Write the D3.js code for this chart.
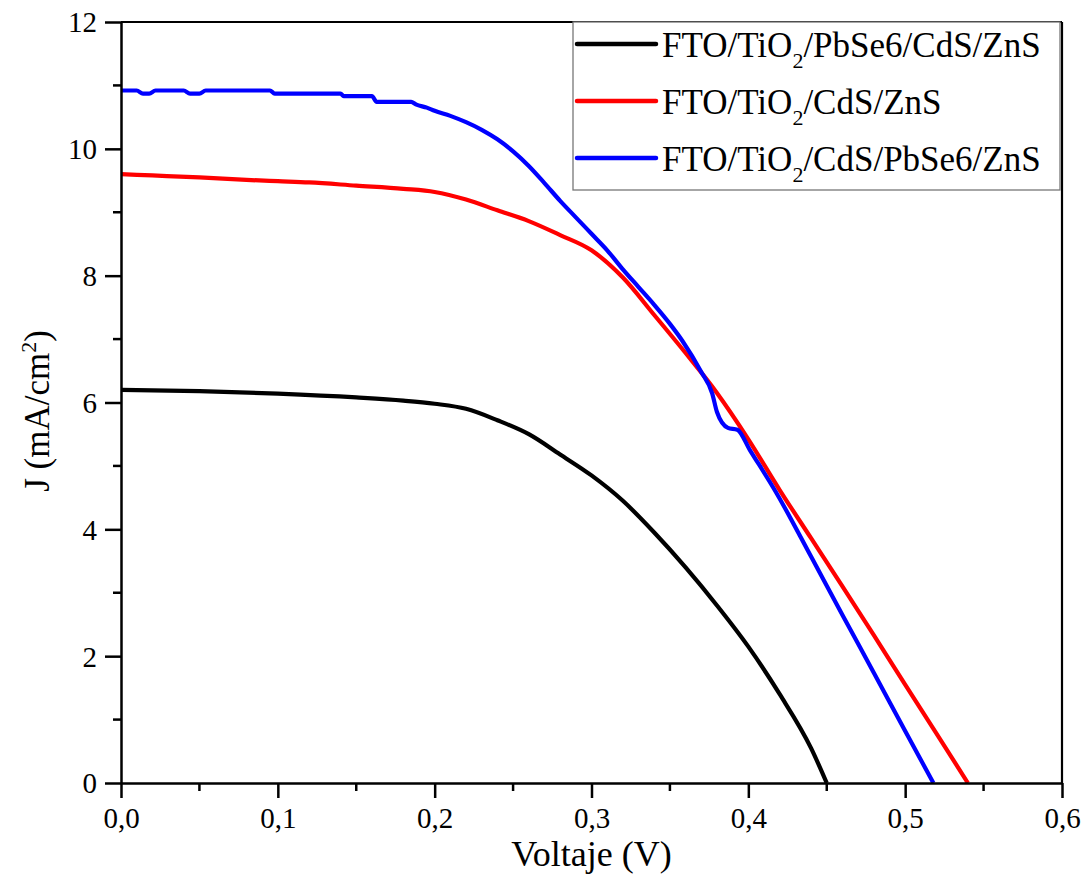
<!DOCTYPE html>
<html>
<head>
<meta charset="utf-8">
<script src="https://cdn.jsdelivr.net/npm/d3@7"></script>
</head>
<body style="margin:0">
<svg id="chart" width="1086" height="884" font-family="Liberation Serif"></svg>
<script>
// J–V curves of the three sensitised photoanodes (voltage in V, current density in mA/cm²)
const seriesNames = [
  "FTO/TiO2/PbSe6/CdS/ZnS",
  "FTO/TiO2/CdS/ZnS",
  "FTO/TiO2/CdS/PbSe6/ZnS"
];
const seriesColors = ["#000000", "#ff0000", "#0000ff"];

const pbseCdsV = [0, 0.05, 0.10, 0.15, 0.18, 0.20, 0.22, 0.24, 0.26, 0.28, 0.30, 0.32, 0.34, 0.36, 0.38, 0.40, 0.42, 0.44, 0.45];
const pbseCdsJ = [6.20, 6.18, 6.14, 6.08, 6.03, 5.98, 5.90, 5.72, 5.50, 5.18, 4.85, 4.45, 3.95, 3.40, 2.80, 2.15, 1.40, 0.55, 0.0];

const cdsV = [0, 0.02, 0.05, 0.08, 0.10, 0.12, 0.15, 0.18, 0.20, 0.22, 0.24, 0.26, 0.28, 0.30, 0.32, 0.34, 0.36, 0.38, 0.40, 0.42, 0.44, 0.46, 0.48, 0.50, 0.52, 0.54];
const cdsJ = [9.60, 9.58, 9.55, 9.51, 9.49, 9.47, 9.42, 9.37, 9.32, 9.20, 9.03, 8.86, 8.64, 8.40, 7.97, 7.38, 6.78, 6.15, 5.42, 4.62, 3.86, 3.10, 2.33, 1.55, 0.78, 0.0];

const cdsPbseV = [0, 0.010, 0.014, 0.018, 0.022, 0.040, 0.044, 0.050, 0.054, 0.095, 0.098, 0.140, 0.142, 0.160, 0.163, 0.185, 0.188, 0.195, 0.20, 0.21, 0.22, 0.23, 0.24, 0.25, 0.26, 0.27, 0.28, 0.29, 0.30, 0.31, 0.32, 0.33, 0.34, 0.35, 0.358, 0.37, 0.377, 0.380, 0.387, 0.393, 0.401, 0.418, 0.44, 0.46, 0.48, 0.50, 0.518];
const cdsPbseJ = [10.92, 10.92, 10.87, 10.87, 10.92, 10.92, 10.87, 10.87, 10.92, 10.92, 10.87, 10.87, 10.83, 10.83, 10.74, 10.74, 10.70, 10.65, 10.60, 10.52, 10.42, 10.30, 10.15, 9.96, 9.73, 9.46, 9.18, 8.92, 8.66, 8.40, 8.10, 7.82, 7.54, 7.24, 6.97, 6.48, 6.14, 5.85, 5.60, 5.57, 5.25, 4.57, 3.57, 2.65, 1.74, 0.82, 0.0];

const xTicks = [0, 0.1, 0.2, 0.3, 0.4, 0.5, 0.6];
const xMinorTicks = [0.05, 0.15, 0.25, 0.35, 0.45, 0.55];
const yTicks = [0, 2, 4, 6, 8, 10, 12];
const yMinorTicks = [1, 3, 5, 7, 9, 11];

const xTitle = "Voltaje (V)";

const series = [
  { name: seriesNames[0], color: seriesColors[0], v: pbseCdsV, j: pbseCdsJ },
  { name: seriesNames[1], color: seriesColors[1], v: cdsV, j: cdsJ },
  { name: seriesNames[2], color: seriesColors[2], v: cdsPbseV, j: cdsPbseJ }
];

const FONT = "Liberation Serif";
const svg = d3.select("#chart");
const plotL = 121, plotR = 1062, plotT = 22, plotB = 783;

const x = d3.scaleLinear().domain([0, 0.6]).range([plotL, plotR]);
const y = d3.scaleLinear().domain([0, 12]).range([plotB, plotT]);

const comma = d => d3.format(".1f")(d).replace(".", ",");

// curves, clipped to the frame
svg.append("clipPath").attr("id", "plotClip")
  .append("rect").attr("x", plotL).attr("y", plotT - 2).attr("width", plotR - plotL).attr("height", plotB - plotT + 2);

const line = d3.line().x(d => x(d[0])).y(d => y(d[1])).curve(d3.curveMonotoneX);

const plot = svg.append("g").attr("clip-path", "url(#plotClip)");
series.forEach(s => {
  const pts = s.v.map((v, i) => [v, s.j[i]]);
  plot.append("path")
    .datum(pts)
    .attr("d", line)
    .attr("fill", "none")
    .attr("stroke", s.color)
    .attr("stroke-width", 4.2)
    .attr("stroke-linejoin", "round");
});

// frame: top and right edges
svg.append("line").attr("x1", plotL).attr("x2", plotR).attr("y1", plotT).attr("y2", plotT)
  .attr("stroke", "#000").attr("stroke-width", 2.2);
svg.append("line").attr("x1", plotR).attr("x2", plotR).attr("y1", plotT).attr("y2", plotB)
  .attr("stroke", "#000").attr("stroke-width", 2.2);

// bottom axis
const xAxis = svg.append("g").attr("transform", `translate(0,${plotB})`)
  .call(d3.axisBottom(x).tickValues(xTicks).tickFormat(comma).tickSize(15).tickSizeOuter(0));
xAxis.append("g").selectAll("line").data(xMinorTicks).join("line")
  .attr("x1", d => x(d)).attr("x2", d => x(d)).attr("y1", 0).attr("y2", 8)
  .attr("stroke", "#000").attr("stroke-width", 2.5);

// left axis
const yAxis = svg.append("g").attr("transform", `translate(${plotL},0)`)
  .call(d3.axisLeft(y).tickValues(yTicks).tickFormat(d3.format("d")).tickSize(16).tickSizeOuter(0));
yAxis.append("g").selectAll("line").data(yMinorTicks).join("line")
  .attr("x1", 0).attr("x2", -8).attr("y1", d => y(d)).attr("y2", d => y(d))
  .attr("stroke", "#000").attr("stroke-width", 2.5);

[xAxis, yAxis].forEach(a => {
  a.attr("font-family", FONT).attr("font-size", 28);
  a.select(".domain").attr("stroke", "#000").attr("stroke-width", 2.5);
  a.selectAll(".tick line").attr("stroke", "#000").attr("stroke-width", 2.5);
  a.selectAll(".tick text").attr("font-family", FONT).attr("font-size", 29).attr("fill", "#000");
});
xAxis.selectAll(".tick text").attr("dy", 0).attr("y", 45);
yAxis.selectAll(".tick text").attr("x", -24).attr("dy", "0.34em");

// axis titles
svg.append("text")
  .attr("x", (plotL + plotR) / 2).attr("y", 866)
  .attr("text-anchor", "middle")
  .attr("font-family", FONT).attr("font-size", 36).attr("fill", "#000")
  .text(xTitle);

const yTitle = svg.append("text")
  .attr("transform", "translate(49,411) rotate(-90)")
  .attr("text-anchor", "middle")
  .attr("font-family", FONT).attr("font-size", 35).attr("fill", "#000");
yTitle.append("tspan").text("J (mA/cm");
yTitle.append("tspan").attr("font-size", 22).attr("dy", -13).text("2");
yTitle.append("tspan").attr("dy", 13).text(")");

// legend
const legend = svg.append("g");
legend.append("rect")
  .attr("x", 573).attr("y", 22).attr("width", 487).attr("height", 168)
  .attr("fill", "#fff").attr("stroke", "#777").attr("stroke-width", 1.3);

series.forEach((s, i) => {
  const cy = 44 + i * 57;
  legend.append("line")
    .attr("x1", 577).attr("x2", 656).attr("y1", cy).attr("y2", cy)
    .attr("stroke", s.color).attr("stroke-width", 4.5).attr("stroke-linecap", "round");
  const t = legend.append("text").attr("x", 662).attr("y", cy + 13)
    .attr("font-family", FONT).attr("font-size", 35).attr("fill", "#000");
  const parts = s.name.split("TiO2");
  t.append("tspan").text(parts[0] + "TiO");
  t.append("tspan").attr("font-size", 22).attr("dy", 11).text("2");
  t.append("tspan").attr("dy", -11).text(parts[1]);
});
</script>
</body>
</html>
